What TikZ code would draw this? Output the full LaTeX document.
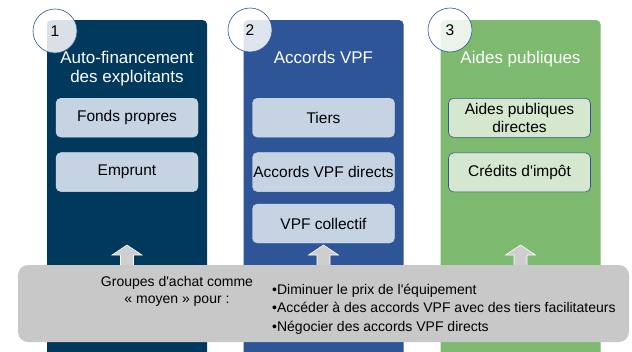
\documentclass[tikz,border=0pt]{standalone}
\usepackage{fontspec}
\setmainfont{Liberation Sans}
\usetikzlibrary{positioning}

\definecolor{navy}{RGB}{0,57,92}
\definecolor{vpfblue}{RGB}{46,85,151}
\definecolor{aidgreen}{RGB}{125,185,110}
\definecolor{boxblue}{RGB}{198,211,226}
\definecolor{boxgreen}{RGB}{214,231,208}
\definecolor{edgeblue}{RGB}{47,85,151}
\definecolor{groupgray}{RGB}{200,200,200}
\definecolor{arrowgray}{RGB}{206,206,206}

\tikzset{
	column/.style={rectangle, rounded corners=4pt, minimum width=160pt, minimum height=340pt, anchor=north, inner sep=0pt},
	title/.style={text=white, font=\fontsize{17}{19.5}\selectfont, align=center, anchor=base, inner sep=0pt},
	item/.style={rectangle, rounded corners=5pt, minimum width=142pt, minimum height=39pt, inner sep=0pt, align=center, font=\fontsize{15.5}{18}\selectfont},
	itemblue/.style={item, fill=boxblue, draw=boxblue!80!white},
	itemgreen/.style={item, fill=boxgreen, draw=edgeblue, line width=0.6pt},
	number/.style={circle, minimum size=44pt, draw=edgeblue, line width=0.6pt, fill=white, fill opacity=0.85, text opacity=1, font=\fontsize{15.5}{18}\selectfont},
	groupfont/.style={font=\fontsize{14}{18.5}\selectfont, inner sep=0pt}
}

\begin{document}
\begin{tikzpicture}[x=1pt,y=-1pt]
	\useasboundingbox (0,0) rectangle (632,351);

	%columns
	\node[column, fill=navy]     (col1) at (127,20)   {};
	\node[column, fill=vpfblue]  (col2) at (323.5,20) {};
	\node[column, fill=aidgreen] (col3) at (520.5,20) {};

	%titles (base = last line)
	\node[title] (title1) at (127,82.5) {Auto-financement\\des exploitants};
	\node[title] (title2) at (323.5,63) {Accords VPF};
	\node[title] (title3) at (520.5,63) {Aides publiques};

	%numbered circles
	\node[number] (num1) at (55,31)  {1};
	\node[number] (num2) at (250,30) {2};
	\node[number] (num3) at (450,30) {3};

	%boxes, column 1
	\node[itemblue, anchor=north] (fonds) at (127,98) {Fonds propres};
	\node[itemblue, below=15pt of fonds] (emprunt) {Emprunt};
	%boxes, column 2
	\node[itemblue, anchor=north] (tiers) at (323.5,98) {Tiers};
	\node[itemblue, below=15pt of tiers] (directs) {Accords VPF directs};
	\node[itemblue, below=12pt of directs] (collectif) {VPF collectif};
	%boxes, column 3
	\node[itemgreen, anchor=north] (aides) at (519.5,98) {Aides publiques\\directes};
	\node[itemgreen, below=15pt of aides] (credits) {Crédits d\textquotesingle impôt};

	%up arrows
	\foreach \x in {127,323.5,520.5}
		\filldraw[fill=arrowgray, draw=white, line width=0.6pt]
			(\x-6.5,272) -- (\x-6.5,255) -- (\x-15,255) -- (\x,245)
			-- (\x+15,255) -- (\x+6.5,255) -- (\x+6.5,272) -- cycle;

	%purchase groups (base = last line)
	\node[rectangle, rounded corners=10pt, fill=groupgray, minimum width=611pt, minimum height=77pt, inner sep=0pt] (group) at (323.5,303.5) {};
	\node[groupfont, font=\fontsize{14}{17}\selectfont, align=center, anchor=base] (moyen) at (177,303)
		{Groupes d\textquotesingle achat comme\\« moyen » pour :};
	\node[groupfont, align=left, anchor=base west] (goals) at (272,331)
		{•Diminuer le prix de l\textquotesingle équipement\\
		 •Accéder à des accords VPF avec des tiers facilitateurs\\
		 •Négocier des accords VPF directs};
\end{tikzpicture}
\end{document}
